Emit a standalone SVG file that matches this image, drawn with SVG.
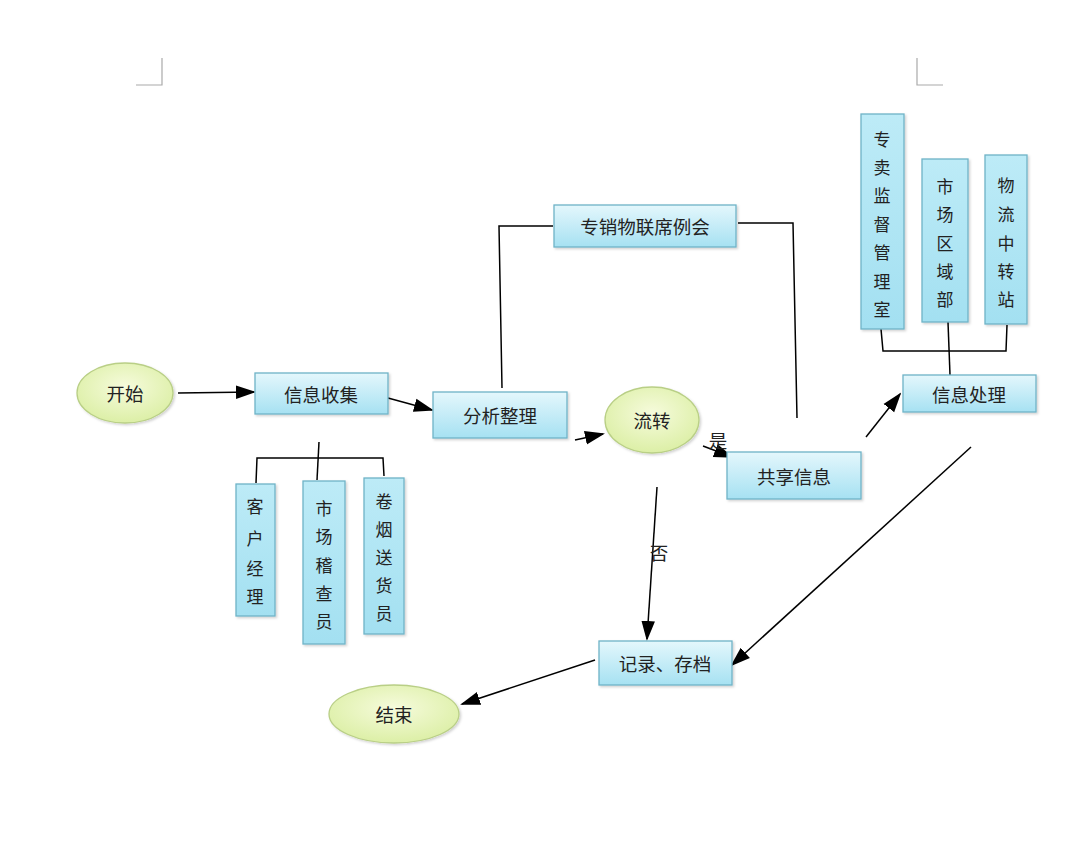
<svg xmlns="http://www.w3.org/2000/svg" width="1080" height="868" viewBox="0 0 1080 868">
<defs>
<linearGradient id="gb" x1="0" y1="0" x2="0" y2="1"><stop offset="0" stop-color="#e4f7fc"/><stop offset="1" stop-color="#a6e1f2"/></linearGradient>
<linearGradient id="gbv" x1="0" y1="0" x2="0" y2="1"><stop offset="0" stop-color="#bdebf7"/><stop offset="1" stop-color="#a3e0f1"/></linearGradient>
<radialGradient id="gy" cx="0.5" cy="0.4" r="0.6"><stop offset="0" stop-color="#f6fbdc"/><stop offset="1" stop-color="#dcefa6"/></radialGradient>
<filter id="sh" x="-10%" y="-10%" width="125%" height="125%"><feDropShadow dx="1.5" dy="1.5" stdDeviation="1.2" flood-color="#000" flood-opacity="0.18"/></filter>
<marker id="arB" viewBox="0 0 10 10" refX="9" refY="5" markerWidth="20" markerHeight="20" markerUnits="userSpaceOnUse" orient="auto"><path d="M0,1.6 L10,5 L0,8.4 z" fill="#000"/></marker>
</defs>
<style>
.box{fill:url(#gb);stroke:#6fb3c7;stroke-width:1.3;filter:url(#sh)}
.vbox{fill:url(#gbv);stroke:#6fb3c7;stroke-width:1.3;filter:url(#sh)}
.ell{fill:url(#gy);stroke:#b9cf86;stroke-width:1.3;filter:url(#sh)}
.t{font-family:"Noto Sans CJK SC","Noto Sans",sans-serif;font-size:18.5px;fill:#222;text-anchor:middle;dominant-baseline:central}
.vt{font-family:"Noto Sans CJK SC","Noto Sans",sans-serif;font-size:17px;fill:#222;text-anchor:middle;dominant-baseline:central}
.c{fill:none;stroke:#000;stroke-width:1.5}
.a{fill:none;stroke:#000;stroke-width:1.5;marker-end:url(#arB)}
.crn{fill:none;stroke:#aaa;stroke-width:1.2}
</style>
<rect width="1080" height="868" fill="#fff"/>
<path class="crn" d="M162,58 V85 H136"/>
<path class="crn" d="M917,58 V85 H943"/>

<g id="connectors">
<line class="a" x1="178" y1="393" x2="254" y2="392"/>
<line class="a" x1="388" y1="398" x2="432" y2="410"/>
<line class="a" x1="575" y1="440" x2="603" y2="434"/>
<line class="a" x1="703" y1="446" x2="732" y2="457"/>
<line class="a" x1="657" y1="487" x2="647" y2="639"/>
<line class="a" x1="866" y1="437" x2="900" y2="394"/>
<line class="a" x1="971" y1="447" x2="732" y2="665"/>
<line class="a" x1="595" y1="660" x2="462" y2="704"/>
<path class="c" d="M502,388 L499,226 H553"/>
<path class="c" d="M738,223 H793 L797,418"/>
<path class="c" d="M319,442 L317,480"/>
<path class="c" d="M256,483 L257,458 H383 L384,476"/>
<path class="c" d="M881,329 L883,351 H1006 L1007,325"/>
<path class="c" d="M948,322 L950,375"/>
<text class="t" x="718" y="440">是</text>
<text class="t" x="659" y="552">否</text>
</g>

<g id="start"><ellipse class="ell" cx="125" cy="393" rx="48" ry="30"/><text class="t" x="125" y="393">开始</text></g>
<g id="collect"><rect class="box" x="255" y="373" width="133" height="41"/><text class="t" x="321" y="394">信息收集</text></g>
<g id="analyze"><rect class="box" x="433" y="392" width="134" height="46"/><text class="t" x="500" y="415">分析整理</text></g>
<g id="flow"><ellipse class="ell" cx="652" cy="420" rx="47" ry="33"/><text class="t" x="652" y="420">流转</text></g>
<g id="share"><rect class="box" x="727" y="452" width="134" height="47"/><text class="t" x="794" y="476">共享信息</text></g>
<g id="meeting"><rect class="box" x="554" y="205" width="182" height="42"/><text class="t" x="645" y="226">专销物联席例会</text></g>
<g id="process"><rect class="box" x="903" y="375" width="133" height="37"/><text class="t" x="969" y="394">信息处理</text></g>
<g id="record"><rect class="box" x="599" y="641" width="133" height="44"/><text class="t" x="665" y="663">记录、存档</text></g>
<g id="end"><ellipse class="ell" cx="394" cy="714" rx="65" ry="29"/><text class="t" x="394" y="714">结束</text></g>

<g id="supervise"><rect class="vbox" x="861" y="114" width="43" height="215"/>
<text class="vt"><tspan x="882" y="138">专</tspan><tspan x="882" y="166">卖</tspan><tspan x="882" y="194">监</tspan><tspan x="882" y="223">督</tspan><tspan x="882" y="251">管</tspan><tspan x="882" y="280">理</tspan><tspan x="882" y="308">室</tspan></text></g>
<g id="region"><rect class="vbox" x="922" y="159" width="46" height="163"/>
<text class="vt"><tspan x="945" y="185">市</tspan><tspan x="945" y="213">场</tspan><tspan x="945" y="242">区</tspan><tspan x="945" y="270">域</tspan><tspan x="945" y="298">部</tspan></text></g>
<g id="logistics"><rect class="vbox" x="985" y="155" width="42" height="169"/>
<text class="vt"><tspan x="1006" y="184">物</tspan><tspan x="1006" y="213">流</tspan><tspan x="1006" y="242">中</tspan><tspan x="1006" y="270">转</tspan><tspan x="1006" y="298">站</tspan></text></g>

<g id="manager"><rect class="vbox" x="236" y="484" width="39" height="132"/>
<text class="vt"><tspan x="255" y="505">客</tspan><tspan x="255" y="537">户</tspan><tspan x="255" y="567">经</tspan><tspan x="255" y="595">理</tspan></text></g>
<g id="inspector"><rect class="vbox" x="303" y="481" width="42" height="163"/>
<text class="vt"><tspan x="324" y="507">市</tspan><tspan x="324" y="535">场</tspan><tspan x="324" y="564">稽</tspan><tspan x="324" y="592">查</tspan><tspan x="324" y="620">员</tspan></text></g>
<g id="delivery"><rect class="vbox" x="364" y="478" width="40" height="156"/>
<text class="vt"><tspan x="384" y="500">卷</tspan><tspan x="384" y="528">烟</tspan><tspan x="384" y="556">送</tspan><tspan x="384" y="584">货</tspan><tspan x="384" y="612">员</tspan></text></g>
</svg>
